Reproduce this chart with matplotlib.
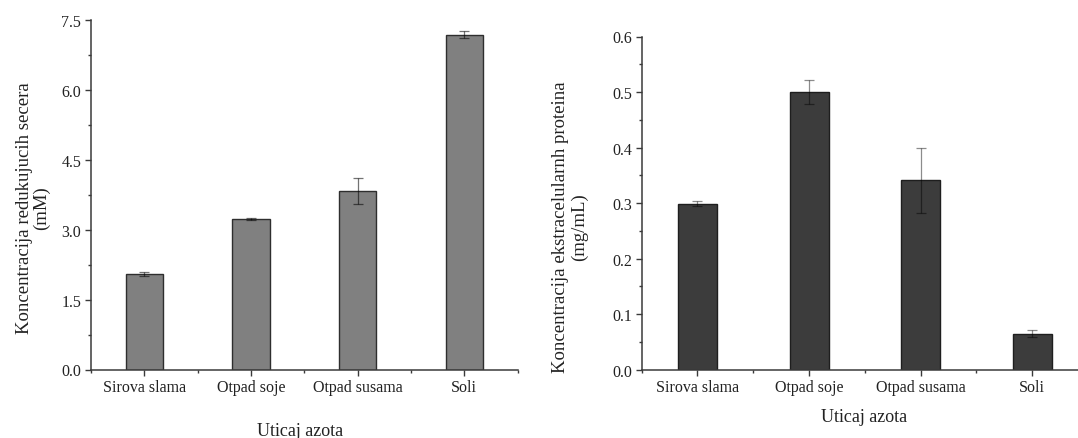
import numpy as np
import matplotlib
matplotlib.use("Agg")
from matplotlib import pyplot as plt
from matplotlib.ticker import MultipleLocator

plt.rcParams['font.family'] = ['Liberation Serif', 'DejaVu Serif']

categories = ['Sirova slama', 'Otpad soje', 'Otpad susama', 'Soli']

# reducing sugars (mM)
sugar_mean = [2.04, 3.22, 3.83, 7.18]
sugar_err = [0.04, 0.02, 0.28, 0.08]

# extracellular proteins (mg/mL)
protein_mean = [0.299, 0.500, 0.341, 0.065]
protein_err = [0.005, 0.022, 0.059, 0.007]

W, H = 1078, 439
fig = plt.figure(figsize=(W / 100, H / 100), dpi=100, facecolor='w')


def px(x0, y0, x1, y1):
    # pixel box -> figure fraction [left, bottom, width, height]
    return [x0 / W, 1 - y1 / H, (x1 - x0) / W, (y1 - y0) / H]


def style_axes(ax, major, minor, ymax):
    for s in ('top', 'right'):
        ax.spines[s].set_visible(False)
    for s in ('left', 'bottom'):
        ax.spines[s].set_color('#3a3a3a')
        ax.spines[s].set_linewidth(1.1)
    ax.set_xlim(0.5, 4.5)
    ax.set_ylim(0, ymax)
    ax.set_xticks(range(1, 5))
    ax.set_xticklabels(categories)
    ax.xaxis.set_minor_locator(MultipleLocator(0.5))
    ax.yaxis.set_major_locator(MultipleLocator(major))
    ax.yaxis.set_minor_locator(MultipleLocator(minor))
    ax.tick_params(which='major', direction='out', length=4.5, width=1.0,
                   color='#3a3a3a', labelsize=11.5, pad=2.5, labelcolor='#222222')
    ax.tick_params(which='minor', direction='out', length=2.3, width=1.0,
                   color='#3a3a3a')


x = np.arange(1, 5)

# left panel: reducing sugars
ax1 = fig.add_axes(px(91, 20.7, 517.5, 370.5))
ax1.bar(x, sugar_mean, width=0.35, color='#808080', edgecolor='#2e2e2e',
        linewidth=1.0, zorder=2)
ax1.errorbar(x, sugar_mean, yerr=sugar_err, fmt='none', ecolor='black',
             elinewidth=0.9, capsize=3.5, capthick=0.9, alpha=0.55, zorder=3)
style_axes(ax1, 1.5, 0.75, 7.5)
ax1.yaxis.set_major_formatter(matplotlib.ticker.FormatStrFormatter('%.1f'))
fig.text(33 / W, 1 - 208 / H, 'Koncentracija redukujucih secera\n(mM)',
         rotation=90, ha='center', va='center', multialignment='center',
         fontsize=13.5, linespacing=1.05, color='#222222')
fig.text(300 / W, 1 - 432 / H, 'Uticaj azota', ha='center', va='center',
         fontsize=13, color='#222222')

# right panel: extracellular proteins
ax2 = fig.add_axes(px(641.7, 37.5, 1088, 370.7))
ax2.bar(x, protein_mean, width=0.35, color='#3c3c3c', edgecolor='#1e1e1e',
        linewidth=1.0, zorder=2)
ax2.errorbar(x, protein_mean, yerr=protein_err, fmt='none', ecolor='black',
             elinewidth=0.9, capsize=3.5, capthick=0.9, alpha=0.45, zorder=3)
style_axes(ax2, 0.1, 0.05, 0.6)
ax2.set_clip_on(False)
fig.text(570 / W, 1 - 227 / H, 'Koncentracija ekstracelularnh proteina\n(mg/mL)',
         rotation=90, ha='center', va='center', multialignment='center',
         fontsize=13.5, linespacing=1.15, color='#222222')
fig.text(864 / W, 1 - 418 / H, 'Uticaj azota', ha='center', va='center',
         fontsize=13, color='#222222')

plt.savefig('out.png', dpi=100, facecolor='w')
